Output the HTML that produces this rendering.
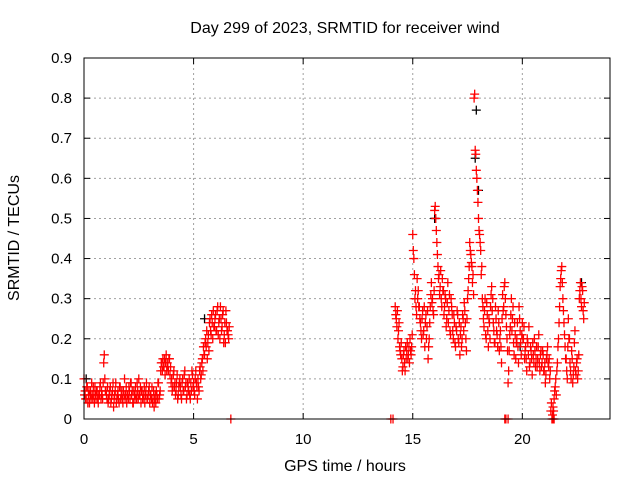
<!DOCTYPE html>
<html><head><meta charset="utf-8"><style>
body{margin:0;background:#fff}
svg{display:block;font-family:"Liberation Sans",sans-serif}
</style></head><body>
<svg id="chart" width="640" height="480" viewBox="0 0 640 480" xmlns="http://www.w3.org/2000/svg">
<rect width="640" height="480" fill="#fff"/>
<text x="345" y="33" font-size="16" text-anchor="middle">Day 299 of 2023, SRMTID for receiver wind</text>
<text x="345" y="471" font-size="16" text-anchor="middle">GPS time / hours</text>
<text transform="translate(19,238) rotate(-90)" font-size="16" text-anchor="middle">SRMTID / TECUs</text>
<g id="grid"></g><g id="marks"></g><g id="axes"></g>
</svg>
<script>
const xTicks=[0,5,10,15,20];
const yTicks=[0,0.1,0.2,0.3,0.4,0.5,0.6,0.7,0.8,0.9];
const seg1Start=0, seg1Step=0.05;
const seg1Values=[.10,.07,.05,.08,.06,.04,.07,.09,.05,.06,.08,.05,.07,.04,.06,.09,.07,.05,.14,.10,
.07,.05,.04,.06,.08,.05,.07,.03,.06,.09,.05,.07,.04,.08,.06,.05,.07,.10,.06,.04,
.06,.08,.05,.09,.07,.04,.06,.08,.05,.07,.10,.06,.04,.07,.05,.08,.06,.09,.05,.07,
.04,.06,.08,.05,.03,.06,.07,.05,.09,.06,.12,.14,.15,.13,.11,.16,.14,.12,.15,.13,
.10,.08,.12,.09,.07,.11,.06,.09,.08,.05,.10,.07,.12,.09,.06,.08,.10,.05,.07,.11,
.09,.06,.12,.08,.10,.07,.13,.11,.15,.18,.16,.20,.22,.19,.17,.25,.21,.24,.27,.23,
.26,.22,.28,.24,.20,.25,.23,.27,.21,.19,.24,.22,.20];
const seg1bStart=0.025, seg1bStep=0.05;
const seg1bValues=[.06,.05,.08,.04,.07,.06,.05,.06,.08,.04,.06,.07,.05,.06,.08,.05,.06,.09,.16,.07,
.06,.08,.05,.07,.04,.06,.09,.05,.07,.04,.06,.05,.08,.05,.07,.04,.06,.05,.08,.06,
.05,.07,.09,.06,.04,.07,.05,.06,.09,.05,.06,.08,.07,.05,.06,.04,.07,.05,.06,.08,
.06,.05,.04,.07,.05,.04,.06,.09,.05,.07,.14,.12,.13,.15,.14,.12,.13,.15,.11,.09,
.07,.11,.08,.06,.09,.05,.08,.10,.06,.09,.07,.11,.08,.05,.09,.07,.06,.09,.12,.08,
.07,.10,.09,.05,.08,.12,.10,.14,.12,.16,.19,.18,.15,.21,.24,.22,.26,.20,.23,.25,
.22,.27,.21,.25,.28,.22,.26,.19,.24,.27,.22,.21,.23];
const seg2Start=14.2, seg2Step=0.05;
const seg2Values=[.28,.25,.27,.22,.18,.16,.15,.13,.17,.12,.15,.19,.16,.14,.17,.18,
.46,.40,.30,.28,.35,.32,.28,.24,.20,.27,.22,.18,.26,.23,.15,.20,.28,.34,.30,.26,
.52,.50,.44,.38,.36,.33,.30,.35,.32,.28,.30,.25,.34,.27,.22,.30,.26,.20,.24,.18,
.22,.26,.19,.16,.23,.20,.25,.29,.24,.17,.30,.35,.44,.41,.38,.36,.80,.67,.62,.57,
.50,.46,.42,.38,.28,.23,.30,.20,.26,.18,.24,.28,.33,.30,.22,.19,.25,.21,.27,.17,
.22,.14,.31,.28,.34,.26,.20,.09,.17,.23,.30,.25,.19,.24,.15,.20,.18,.28,.22,.16,
.24,.20,.15,.18,.12,.19,.23,.14,.17,.11,.16,.20,.13,.18,.15,.21,.12,.17,.14,.16,
.12,.09,.15,.18,.13,.10,.02,.00,.03,.05,.08,.06,.14,.20,.28,.35,.38,.30,.24,.18,
.15,.10,.25,.20,.12,.17,.09,.13,.22,.11,.15,.12,.30,.34,.28,.32,.25];
const seg2bStart=14.225, seg2bStep=0.05;
const seg2bValues=[.26,.23,.20,.24,.17,.19,.12,.16,.14,.18,.17,.15,.18,.20,.16,.21,
.42,.36,.32,.26,.30,.28,.25,.22,.25,.21,.28,.24,.20,.27,.18,.24,.31,.29,.27,.32,
.53,.47,.41,.35,.31,.37,.28,.32,.26,.31,.23,.29,.24,.31,.21,.28,.22,.26,.19,.23,
.27,.20,.24,.21,.18,.26,.22,.27,.20,.25,.32,.38,.42,.39,.34,.31,.81,.66,.60,.54,
.47,.44,.36,.30,.25,.27,.21,.29,.22,.25,.20,.31,.27,.24,.19,.28,.22,.18,.24,.20,
.18,.25,.27,.33,.30,.23,.17,.12,.21,.26,.22,.28,.16,.21,.19,.24,.14,.25,.19,.21,
.20,.23,.17,.15,.20,.16,.13,.18,.15,.19,.14,.17,.15,.13,.18,.14,.16,.13,.17,.12,
.14,.11,.16,.14,.15,.12,.04,.01,.02,.07,.10,.12,.18,.24,.33,.37,.34,.27,.21,.15,
.12,.18,.20,.14,.10,.15,.11,.19,.12,.14,.10,.16,.32,.30,.33,.27,.29];
const zeroHours=[6.7,14.0,14.1,19.2,19.25,19.35,21.4,21.45];
const blackHours=[17.9,18.0,17.85,5.5,22.7,0.1,16.0,19.9];
const blackValues=[0.77,0.57,0.65,0.25,0.34,0.10,0.50,0.18];

const X0=84,X1=610,Y0=419,Y1=58;
const xs=h=>X0+h*(X1-X0)/24;
const ys=v=>Y0-v*(Y0-Y1)/0.9;
const NS="http://www.w3.org/2000/svg";
function mk(t,a,p){const e=document.createElementNS(NS,t);for(const k in a)e.setAttribute(k,a[k]);p.appendChild(e);return e;}
const grid=document.getElementById('grid'),axes=document.getElementById('axes'),marks=document.getElementById('marks');
xTicks.forEach(t=>{const x=xs(t);
 if(t>0){const g=mk('line',{x1:x,y1:Y1,x2:x,y2:Y0,stroke:'#a0a0a0','stroke-dasharray':'2,3'},grid);
 
 }
 mk('line',{x1:x,y1:Y0,x2:x,y2:Y0-6,stroke:'#000'},axes);
 mk('line',{x1:x,y1:Y1,x2:x,y2:Y1+6,stroke:'#000'},axes);
 const l=mk('text',{x:x,y:Y0+25,'font-size':15,'text-anchor':'middle'},axes);l.textContent=t;
 
 
});
yTicks.forEach(t=>{const y=ys(t);
 if(t>0){const g=mk('line',{x1:X0,y1:y,x2:X1,y2:y,stroke:'#a0a0a0','stroke-dasharray':'2,3'},grid);
 
 }
 mk('line',{x1:X0,y1:y,x2:X0+6,y2:y,stroke:'#000'},axes);
 mk('line',{x1:X1,y1:y,x2:X1-6,y2:y,stroke:'#000'},axes);
 const l=mk('text',{x:X0-12,y:y+5,'font-size':15,'text-anchor':'end'},axes);l.textContent=t===0?'0':String(t);
 
 
});
const b=mk('rect',{x:X0,y:Y1,width:X1-X0,height:Y0-Y1,fill:'none',stroke:'#000'},axes);


function plus(h,v,c){const x=xs(h),y=ys(v);
 const p=mk('path',{d:`M${x-4.5},${y}h9M${x},${y-4.5}v9`,stroke:c,'stroke-width':1.3,fill:'none'},marks);
 
 }
blackHours.forEach((h,i)=>plus(h,blackValues[i],'#000'));
seg1Values.forEach((v,i)=>plus(seg1Start+i*seg1Step,v,'#f00'));
seg1bValues.forEach((v,i)=>plus(seg1bStart+i*seg1bStep,v,'#f00'));
seg2Values.forEach((v,i)=>plus(seg2Start+i*seg2Step,v,'#f00'));
seg2bValues.forEach((v,i)=>plus(seg2bStart+i*seg2bStep,v,'#f00'));
zeroHours.forEach(h=>plus(h,0,'#f00'));
</script>
</body></html>
